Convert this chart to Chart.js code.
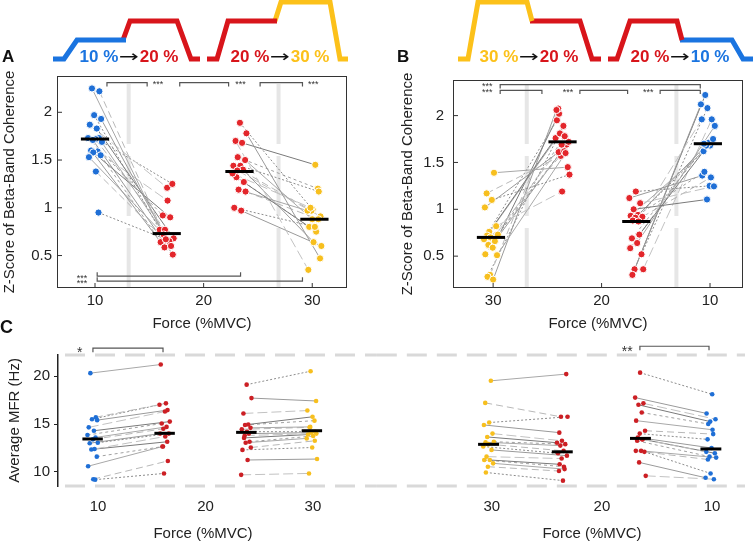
<!DOCTYPE html>
<html>
<head>
<meta charset="utf-8">
<script src="https://cdn.jsdelivr.net/npm/chart.js@4.4.1/dist/chart.umd.min.js"></script>
<style>
  html, body { margin: 0; padding: 0; background: #fff; }
  #wrap { position: relative; width: 754px; height: 546px; overflow: hidden; font-family: 'Liberation Sans', Arial, sans-serif; }
  canvas { position: absolute; }
  .lbl { position: absolute; font-weight: bold; white-space: nowrap; color: #111; }
  .ramp { position: absolute; width: 200px; text-align: center; font-weight: bold; font-size: 17px; line-height: 17px; white-space: nowrap; }
  .ramp i { display: inline-block; font-style: normal; font-weight: normal; color: #111; font-family: 'DejaVu Sans', sans-serif;
            font-size: 16px; transform: scaleX(1.5); margin: 0 4px; }
</style>
</head>
<body>
<div id="wrap">
  <canvas id="banner" width="754" height="62" style="left:0;top:0"></canvas>
  <canvas id="pa" width="360" height="280" style="left:0;top:62px"></canvas>
  <canvas id="pb" width="358" height="280" style="left:396px;top:62px"></canvas>
  <canvas id="pc1" width="377" height="208" style="left:0;top:338px"></canvas>
  <canvas id="pc2" width="377" height="208" style="left:377px;top:338px"></canvas>

  <div class="lbl" style="left:2px;top:48px;font-size:17px;line-height:17px">A</div>
  <div class="lbl" style="left:397px;top:48px;font-size:17px;line-height:17px">B</div>
  <div class="lbl" style="left:0;top:318px;font-size:18px;line-height:18px">C</div>

  <div class="ramp" style="left:29px;top:48px"><span style="color:#1a74e0">10 %</span><i>→</i><span style="color:#d8151b">20 %</span></div>
  <div class="ramp" style="left:180px;top:48px"><span style="color:#d8151b">20 %</span><i>→</i><span style="color:#fcc11a">30 %</span></div>
  <div class="ramp" style="left:429px;top:48px"><span style="color:#fcc11a">30 %</span><i>→</i><span style="color:#d8151b">20 %</span></div>
  <div class="ramp" style="left:580px;top:48px"><span style="color:#d8151b">20 %</span><i>→</i><span style="color:#1a74e0">10 %</span></div>
</div>

<script>
// force profiles above the panels: [time (s), force (%MVC)]
const rampA1lo = [[5.3, 0], [6.4, 0], [7.7, 10], [12.6, 10]];
const rampA1hi = [[12.3, 10], [13.0, 20], [17.7, 20], [19.1, 0], [20.0, 0]];
const rampA2lo = [[20.7, 0], [21.7, 0], [22.8, 20], [27.7, 20]];
const rampA2hi = [[27.5, 20], [28.1, 30], [33.0, 30], [34.0, 0], [34.8, 0]];
const rampB1hi = [[45.8, 0], [46.8, 0], [47.8, 30], [52.7, 30], [53.2, 20]];
const rampB1lo = [[53.0, 20], [58.0, 20], [59.2, 0], [60.1, 0]];
const rampB2hi = [[60.8, 0], [61.7, 0], [63.0, 20], [67.7, 20], [68.2, 10]];
const rampB2lo = [[68.0, 10], [73.2, 10], [74.3, 0], [75.3, 0]];

// tick labels
const forceTicks = [10, 20, 30];
const zTicks = [0.5, 1, 1.5, 2];
const mfrTicks = [10, 15, 20];

// panel A: z-score of beta-band coherence (10 -> 20, 20 -> 30)
const aPos = [10, 16.6, 23.3, 30.2];
const a10 = [2.25, 2.22, 1.97, 1.93, 1.87, 1.83, 1.73, 1.73, 1.72, 1.69, 1.60, 1.59, 1.58, 1.55, 1.53, 1.38, 0.95, 1.71];
const a20up = [0.76, 0.62, 0.77, 0.60, 1.21, 0.68, 0.92, 0.65, 0.77, 1.25, 0.64, 1.075, 0.90, 0.585, 0.72, 0.60, 0.67, 0.51];
const a20 = [1.89, 1.78, 1.70, 1.68, 1.53, 1.50, 1.44, 1.44, 1.40, 1.39, 1.32, 1.27, 1.19, 1.17, 1.00, 0.97, 1.36];
const a30 = [0.98, 0.47, 0.35, 1.45, 1.20, 0.88, 0.97, 1.17, 0.64, 0.91, 0.80, 0.75, 0.97, 0.88, 0.80, 0.60, 1.00];
const aMeans = [1.72, 0.73, 1.38, 0.88];

// panel B: (30 -> 20, 20 -> 10)
const bPos = [30.2, 23.6, 16.8, 10.2];
const b30 = [1.39, 1.17, 1.10, 1.02, 0.82, 0.76, 0.73, 0.72, 0.70, 0.68, 0.66, 0.62, 0.59, 0.52, 0.51, 0.30, 0.28, 0.25];
const b20down = [1.45, 1.57, 1.37, 1.61, 1.19, 1.76, 1.69, 1.81, 1.62, 1.95, 1.72, 1.69, 2.02, 1.78, 1.60, 2.075, 1.89, 2.06];
const b20 = [1.19, 1.12, 1.065, 1.0, 0.94, 0.93, 0.92, 0.91, 0.88, 0.87, 0.73, 0.69, 0.64, 0.585, 0.52, 0.36, 0.36, 0.30];
const b10 = [1.25, 1.36, 1.245, 1.105, 1.40, 1.68, 1.34, 1.62, 1.71, 1.96, 1.75, 1.68, 1.89, 1.70, 2.08, 2.12, 1.96, 2.22];
const bMeans = [0.70, 1.72, 0.87, 1.70];

// panel C: average MFR (Hz)
const cPos = [9.5, 16.2, 23.8, 29.9];
const c10 = [20.3, 15.7, 15.5, 15.4, 14.65, 14.3, 13.85, 13.6, 13.4, 13.05, 13.0, 12.4, 12.35, 11.6, 10.6, 9.25, 9.2];
const c20up = [21.2, 17.15, 17.0, 16.45, 16.3, 15.25, 15.05, 14.7, 14.5, 14.0, 14.0, 13.7, 13.15, 12.65, 12.65, 11.15, 9.85];
const c20 = [19.1, 17.7, 16.1, 14.95, 14.9, 14.6, 14.45, 14.2, 14.0, 13.8, 13.55, 13.15, 13.05, 12.55, 12.3, 11.25, 9.7];
const c30 = [20.5, 17.4, 16.4, 15.75, 15.35, 14.7, 14.65, 14.2, 14.1, 14.0, 13.9, 13.75, 13.5, 13.25, 12.55, 11.35, 9.85];
const cMeans = [13.44, 14.03, 14.13, 14.3];

const dPos = [30.3, 23.6, 16.5, 10.1];
const d30 = [19.5, 17.2, 15.15, 14.9, 14.0, 13.65, 13.15, 13.1, 12.9, 12.65, 12.3, 11.6, 11.25, 11.25, 10.9, 10.55, 9.95];
const d20down = [20.2, 15.75, 15.75, 14.1, 13.25, 13.05, 12.9, 12.75, 12.2, 11.95, 11.7, 11.4, 10.8, 10.55, 10.3, 10.1, 9.1];
const d20 = [20.35, 17.75, 17.15, 17.0, 16.2, 15.35, 14.3, 14.0, 13.6, 13.4, 13.4, 13.25, 12.2, 12.2, 12.1, 11.0, 9.6];
const d10 = [18.1, 16.1, 15.5, 15.25, 15.0, 14.4, 13.95, 13.4, 12.5, 12.1, 11.95, 11.6, 11.5, 11.3, 9.85, 9.4, 9.25];
const dMeans = [12.88, 12.1, 13.5, 12.4];

// significance brackets [from, to, level, tick direction] and star labels
const sigA = [[11.1, 14.8, 2.31, -1], [17.8, 22.3, 2.31, -1], [25.2, 29.1, 2.31, -1], [10.2, 23.4, 0.284, 1], [10.2, 29.1, 0.232, 1]];
const starsA = [[15.8, 2.31, '***'], [23.4, 2.31, '***'], [30.1, 2.31, '***'], [8.8, 0.284, '***'], [8.8, 0.232, '***']];
const sigB = [[29.35, 10.9, 2.33, -1], [29.35, 25.5, 2.27, -1], [22.0, 17.6, 2.27, -1], [14.6, 10.9, 2.27, -1]];
const starsB = [[30.55, 2.33, '***'], [30.55, 2.27, '***'], [23.1, 2.27, '***'], [15.7, 2.27, '***']];
const sigC = [[9.53, 16.05, 22.9, -1]];
const starsC = [[8.3, 22.75, '*']];
const sigD = [[16.55, 10.27, 23.1, -1]];
const starsD = [[17.7, 22.85, '**']];

// horizontal scatter of the dots
const jit = [-0.35, 0.5, -0.1, 0.7, -0.6, 0.2, -0.8, 0.45, 0.05, 0.8, -0.45, 0.3, -0.2, 0.65, -0.7, 0.1, 0.4, -0.25];

const BLUE = '#1f6fd6', RED = '#e3262b', YEL = '#f7bf1e';
const BLUE2 = '#1a74e0', RED2 = '#d8151b', YEL2 = '#fcc11a';
const pairStyles = [
  { c: '#a8a8a8', d: [] },
  { c: '#b8b8b8', d: [7, 4] },
  { c: '#8c8c8c', d: [2, 2] },
  { c: '#9a9a9a', d: [] },
  { c: '#c2c2c2', d: [10, 4] },
  { c: '#7a7a7a', d: [] },
  { c: '#a0a0a0', d: [3, 3] }
];

Chart.defaults.font.family = "'Liberation Sans', Arial, sans-serif";
Chart.defaults.color = '#222';
Chart.defaults.animation = false;
Chart.defaults.plugins.legend.display = false;
Chart.defaults.plugins.tooltip.enabled = false;

// frame, inward ticks and star labels
const decor = {
  id: 'decor',
  afterDatasetsDraw(chart, args, o) {
    const { ctx, chartArea: a, scales: { x, y } } = chart;
    ctx.save();
    if (o.frame) {
      ctx.strokeStyle = '#333';
      ctx.lineWidth = 1;
      ctx.strokeRect(a.left + 0.5, a.top + 0.5, a.width - 1, a.height - 1);
      ctx.beginPath();
      x.ticks.forEach(t => { const p = x.getPixelForValue(t.value); ctx.moveTo(p, a.bottom); ctx.lineTo(p, a.bottom - 5); });
      y.ticks.forEach(t => { const p = y.getPixelForValue(t.value); ctx.moveTo(a.left, p); ctx.lineTo(a.left + 5, p); });
      ctx.stroke();
    }
    ctx.fillStyle = '#333';
    ctx.font = (o.starSize || 9) + "px 'Liberation Sans', Arial, sans-serif";
    ctx.textAlign = 'center';
    ctx.textBaseline = 'middle';
    (o.stars || []).forEach(([sx, sy, t]) => {
      ctx.fillText(t, x.getPixelForValue(sx), y.getPixelForValue(sy) + (o.starSize || 9) * 0.25);
    });
    ctx.restore();
  }
};

function ramp(points, color) {
  return { data: points.map(([t, f]) => ({ x: t, y: f })), showLine: true, borderColor: color, borderWidth: 5,
    borderJoinStyle: 'miter', borderCapStyle: 'butt', pointRadius: 0, clip: false };
}

function panel(pos, groups, cols, means, halfBar, r, ring, spread) {
  const X = (g, i) => pos[g] + jit[(i + 4 * g) % jit.length] * spread;
  const sets = [];
  [[0, 1], [2, 3]].forEach(([g1, g2]) => {
    groups[g1].forEach((v, i) => {
      const st = pairStyles[(i + g1) % pairStyles.length];
      sets.push({ data: [{ x: X(g1, i), y: v }, { x: X(g2, i), y: groups[g2][i] }], showLine: true,
        borderColor: st.c, borderDash: st.d, borderWidth: 1, pointRadius: 0, order: 3 });
    });
  });
  groups.forEach((vals, g) => {
    sets.push({ data: vals.map((v, i) => ({ x: X(g, i), y: v })), pointRadius: r, backgroundColor: cols[g],
      borderColor: ring ? '#fff' : cols[g], borderWidth: ring ? 1 : 0, order: 1 });
    sets.push({ data: [{ x: pos[g] - halfBar, y: means[g] }, { x: pos[g] + halfBar, y: means[g] }], showLine: true,
      borderColor: '#000', borderWidth: 3, borderCapStyle: 'butt', pointRadius: 0, order: 0 });
  });
  return sets;
}

function brackets(list, tick) {
  return list.map(([x1, x2, y, dir]) => ({
    data: [{ x: x1, y: y + dir * tick }, { x: x1, y }, { x: x2, y }, { x: x2, y: y + dir * tick }],
    showLine: true, borderColor: '#555', borderWidth: 1.2, pointRadius: 0, clip: false, order: 0
  }));
}

function vlines(xs, lo, hi) {
  return xs.map(x => ({ data: [{ x, y: lo }, { x, y: hi }], showLine: true, borderColor: '#e6e6e6',
    borderWidth: 4, borderDash: [60, 12], pointRadius: 0, order: 6 }));
}

function hlines(ys, x1, x2) {
  return ys.map(y => ({ data: [{ x: x1, y }, { x: x2, y }], showLine: true, borderColor: '#d9d9d9',
    borderWidth: 3, borderDash: [20, 10], pointRadius: 0, clip: false, order: 6 }));
}

function scaleX(min, max, reverse, h, pad, titlePad, show) {
  return {
    type: 'linear', min, max, reverse, display: true,
    grid: { display: false, drawTicks: false }, border: { display: false },
    afterBuildTicks: s => { s.ticks = forceTicks.map(v => ({ value: v })); },
    afterFit: s => { s.height = h; },
    ticks: { padding: pad, font: { size: 15 }, maxRotation: 0, autoSkip: false, callback: v => String(v) },
    title: { display: show !== false, text: 'Force (%MVC)', font: { size: 15 }, padding: { top: 0, bottom: titlePad } }
  };
}

function scaleY(min, max, ticks, w, pad, titlePad, text, axisLine) {
  return {
    type: 'linear', min, max,
    grid: axisLine ? { display: true, drawOnChartArea: false, drawTicks: true, tickLength: 4, color: '#222' }
                   : { display: false, drawTicks: false },
    border: { display: !!axisLine, color: '#222', width: 1.5 },
    afterBuildTicks: s => { s.ticks = ticks.map(v => ({ value: v })); },
    afterFit: s => { s.width = w; },
    ticks: { padding: pad, font: { size: 15 }, callback: v => String(v) },
    title: { display: true, text, font: { size: 15 }, padding: { top: titlePad, bottom: 0 } }
  };
}

// force profiles
new Chart(document.getElementById('banner'), {
  type: 'scatter',
  data: { datasets: [
    ramp(rampA1lo, BLUE2), ramp(rampA1hi, RED2), ramp(rampA2lo, RED2), ramp(rampA2hi, YEL2),
    ramp(rampB1hi, YEL2), ramp(rampB1lo, RED2), ramp(rampB2hi, RED2), ramp(rampB2lo, BLUE2)
  ] },
  options: {
    responsive: false, devicePixelRatio: 1,
    layout: { padding: { top: 2, bottom: 3, left: 0, right: 0 } },
    scales: { x: { type: 'linear', min: 0, max: 75.4, display: false }, y: { min: 0, max: 30, display: false } }
  }
});

// panel A
new Chart(document.getElementById('pa'), {
  type: 'scatter',
  data: { datasets: [
    ...vlines([13.1, 26.9], 0.16, 2.38),
    ...panel(aPos, [a10, a20up, a20, a30], [BLUE, RED, RED, YEL], aMeans, 1.3, 3.6, true, 0.8),
    ...brackets(sigA, 0.04)
  ] },
  options: {
    responsive: false, devicePixelRatio: 1,
    layout: { padding: { top: 10, right: 13, left: 0, bottom: 0 } },
    scales: {
      x: scaleX(6.5, 33.2, false, 54, 4, 9),
      y: scaleY(0.16, 2.38, zTicks, 57, 5, 1, 'Z-Score of Beta-Band Coherence', false)
    },
    plugins: { decor: { frame: true, stars: starsA, starSize: 9 } }
  },
  plugins: [decor]
});

// panel B
new Chart(document.getElementById('pb'), {
  type: 'scatter',
  data: { datasets: [
    ...vlines([13.1, 26.9], 0.16, 2.38),
    ...panel(bPos, [b30, b20down, b20, b10], [YEL, RED, RED, BLUE], bMeans, 1.3, 3.6, true, 0.8),
    ...brackets(sigB, 0.04)
  ] },
  options: {
    responsive: false, devicePixelRatio: 1,
    layout: { padding: { top: 10, right: 11, left: 0, bottom: 0 } },
    scales: {
      x: scaleX(6.96, 33.7, true, 54, 4, 9),
      y: scaleY(0.16, 2.38, zTicks, 57, 9, 3, 'Z-Score of Beta-Band Coherence', false)
    },
    plugins: { decor: { frame: true, stars: starsB, starSize: 9 } }
  },
  plugins: [decor]
});

// panel C, left half
new Chart(document.getElementById('pc1'), {
  type: 'scatter',
  data: { datasets: [
    ...hlines([22.19, 8.54], 6.93, 35.95),
    ...panel(cPos, [c10, c20up, c20, c30], ['#1f6fd6', '#cc1f24', '#cc1f24', YEL], cMeans, 0.95, 2.3, false, 0.6),
    ...brackets(sigC, 0.42)
  ] },
  options: {
    responsive: false, devicePixelRatio: 1,
    layout: { padding: { top: 17, right: 29, left: 0, bottom: 0 } },
    scales: {
      x: scaleX(6.28, 33.26, false, 60, 12, 3),
      y: scaleY(8.54, 22.19, mfrTicks, 58, 4, 6, 'Average MFR (Hz)', true)
    },
    plugins: { decor: { frame: false, stars: starsC, starSize: 14 } }
  },
  plugins: [decor]
});

// panel C, right half
new Chart(document.getElementById('pc2'), {
  type: 'scatter',
  data: { datasets: [
    ...hlines([22.19, 8.54], 40.45, 7.0),
    ...panel(dPos, [d30, d20down, d20, d10], [YEL, '#cc1f24', '#cc1f24', '#1f6fd6'], dMeans, 0.95, 2.3, false, 0.6),
    ...brackets(sigD, 0.42)
  ] },
  options: {
    responsive: false, devicePixelRatio: 1,
    layout: { padding: { top: 17, right: 9, left: 62, bottom: 0 } },
    scales: {
      x: scaleX(7.0, 34.8, true, 60, 12, 3),
      y: { min: 8.54, max: 22.19, display: false }
    },
    plugins: { decor: { frame: false, stars: starsD, starSize: 14 } }
  },
  plugins: [decor]
});
</script>
</body>
</html>
